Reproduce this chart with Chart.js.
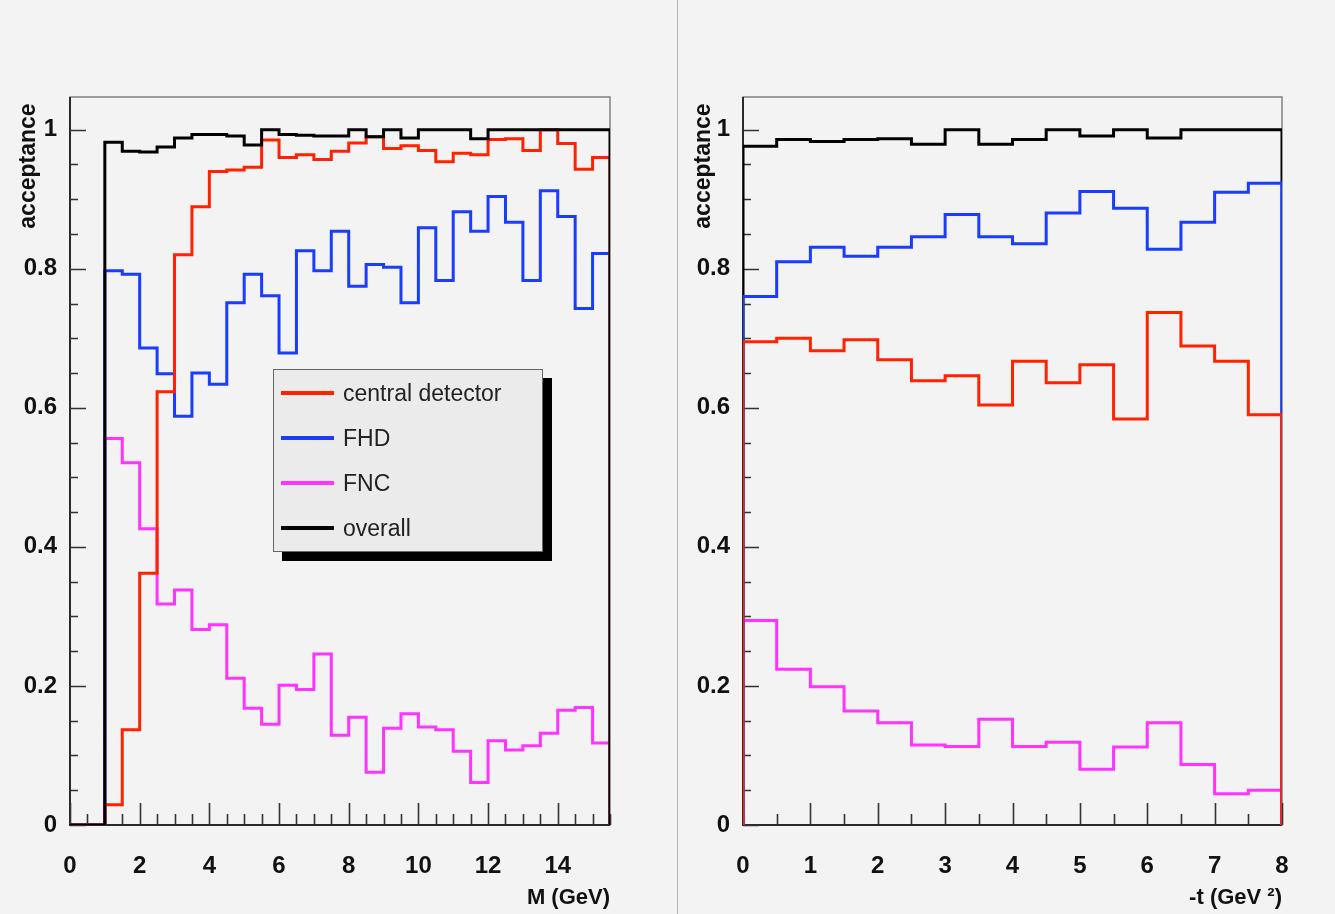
<!DOCTYPE html>
<html>
<head>
<meta charset="utf-8">
<script src="https://cdn.jsdelivr.net/npm/chart.js@4.4.1/dist/chart.umd.min.js"></script>
<style>
  body { margin: 0; background: #f3f3f3; width: 1335px; height: 914px; overflow: hidden; position: relative; font-family: "Liberation Sans", Arial, sans-serif; }
  canvas { position: absolute; top: 0; }
  #cL { left: 0; }
  #cR { left: 678px; }
  #divider { position: absolute; left: 677px; top: 0; width: 1px; height: 914px; background: #b4b4b4; }
  #legend { position: absolute; left: 273px; top: 369px; width: 270px; height: 183px; box-sizing: border-box;
            background: #ebebeb; border: 1px solid #666; box-shadow: 9px 9px 0 #000; }
  .row { position: absolute; left: 7px; height: 30px; }
  .row span.sw { position: absolute; left: 0; top: 13px; width: 53px; height: 4px; }
  .row span.tx { position: absolute; left: 62px; top: 0; font-size: 23px; line-height: 30px; color: #222; white-space: nowrap; }
</style>
</head>
<body>
<canvas id="cL" width="677" height="914"></canvas>
<div id="divider"></div>
<canvas id="cR" width="657" height="914"></canvas>
<div id="legend"></div>
<script>
// series names + colours (legend order)
const seriesNames = ["central detector", "FHD", "FNC", "overall"];
const seriesColors = ["#ff2200", "#1a3cff", "#ff33ff", "#000000"];

// left pad: acceptance vs M (GeV), 0.5 GeV bins from 0 to 15.5
const mRange = [0, 15.5];
const mBinWidth = 0.5;
const mTicks = [0, 2, 4, 6, 8, 10, 12, 14];
const mCentral = [0, 0, 0.029, 0.137, 0.362, 0.623, 0.820, 0.889, 0.940, 0.942, 0.946, 0.985, 0.960, 0.964, 0.957, 0.969,
                  0.981, 0.990, 0.973, 0.977, 0.970, 0.954, 0.966, 0.964, 0.986, 0.987, 0.970, 1.000, 0.980, 0.943, 0.960];
const mFHD = [0, 0, 0.797, 0.792, 0.686, 0.649, 0.588, 0.650, 0.634, 0.751, 0.792, 0.761, 0.679, 0.826, 0.797, 0.854,
              0.775, 0.806, 0.802, 0.751, 0.859, 0.783, 0.882, 0.854, 0.904, 0.867, 0.783, 0.912, 0.875, 0.743, 0.822];
const mFNC = [0, 0, 0.556, 0.521, 0.426, 0.318, 0.338, 0.281, 0.288, 0.211, 0.168, 0.145, 0.201, 0.195, 0.246, 0.129,
              0.155, 0.076, 0.139, 0.160, 0.141, 0.137, 0.106, 0.061, 0.121, 0.108, 0.114, 0.132, 0.165, 0.169, 0.118];
const mOverall = [0, 0, 0.982, 0.969, 0.968, 0.975, 0.988, 0.993, 0.993, 0.991, 0.978, 1.000, 0.993, 0.992, 0.991, 0.991,
                  1.000, 0.990, 1.000, 0.988, 1.000, 1.000, 1.000, 0.987, 1.000, 1.000, 1.000, 1.000, 1.000, 1.000, 1.000];

// right pad: acceptance vs -t (GeV^2), 0.5 bins from 0 to 8
const tRange = [0, 8];
const tBinWidth = 0.5;
const tTicks = [0, 1, 2, 3, 4, 5, 6, 7, 8];
const tCentral = [0.695, 0.700, 0.682, 0.698, 0.669, 0.639, 0.646, 0.604, 0.667, 0.636, 0.662, 0.584, 0.737, 0.689, 0.667, 0.590];
const tFHD = [0.760, 0.810, 0.831, 0.818, 0.831, 0.846, 0.878, 0.846, 0.836, 0.880, 0.911, 0.887, 0.828, 0.867, 0.910, 0.923];
const tFNC = [0.294, 0.224, 0.199, 0.164, 0.147, 0.115, 0.113, 0.152, 0.113, 0.119, 0.080, 0.112, 0.147, 0.087, 0.045, 0.050];
const tOverall = [0.976, 0.986, 0.983, 0.986, 0.987, 0.979, 1.000, 0.979, 0.986, 1.000, 0.991, 1.000, 0.988, 1.000, 1.000, 1.000];

const yRange = [0, 1.047];
const yTicks = [0, 0.2, 0.4, 0.6, 0.8, 1];

// histogram outline for stepped:'after' (vertical first, then across):
// start at 0 on the low edge, one point at each bin's upper edge, back to 0 at the end
function histPoints(lo, width, vals) {
    const pts = [{ x: lo, y: 0 }];
    vals.forEach((v, i) => pts.push({ x: lo + (i + 1) * width, y: v }));
    pts.push({ x: lo + vals.length * width, y: 0 });
    return pts;
}

// ROOT style frame with inside ticks
const rootFrame = {
    id: 'rootFrame',
    beforeDatasetsDraw(chart, args, opts) {
        const { ctx, chartArea: a, scales: { x, y } } = chart;
        ctx.save();
        ctx.strokeStyle = '#808080';
        ctx.lineWidth = 1.5;
        ctx.strokeRect(a.left, a.top, a.right - a.left, a.bottom - a.top);
        ctx.strokeStyle = '#2a2a2a';
        ctx.lineWidth = 2;
        ctx.beginPath();
        ctx.moveTo(a.left, a.top);
        ctx.lineTo(a.left, a.bottom);
        ctx.lineTo(a.right, a.bottom);
        ctx.stroke();

        ctx.lineWidth = 1.6;
        ctx.strokeStyle = '#333';
        ctx.beginPath();
        for (let k = 0; k * opts.yMinor <= y.max + 1e-9; k++) {
            const v = k * opts.yMinor;
            const major = opts.yMajor.some(m => Math.abs(m - v) < 1e-6);
            const py = Math.round(y.getPixelForValue(v)) + 0.5;
            ctx.moveTo(a.left, py);
            ctx.lineTo(a.left + (major ? 16 : 8), py);
        }
        for (let k = 0; x.min + k * opts.xMinor <= x.max + 1e-9; k++) {
            const v = x.min + k * opts.xMinor;
            const major = opts.xMajor.some(m => Math.abs(m - v) < 1e-6);
            const px = Math.round(x.getPixelForValue(v)) + 0.5;
            ctx.moveTo(px, a.bottom);
            ctx.lineTo(px, a.bottom - (major ? 22 : 11));
        }
        ctx.stroke();
        ctx.restore();
    }
};

function fmt(v) {
    return String(Math.round(v * 10) / 10);
}

// layers: lower number is painted on top
function makeChart(id, lo, hi, width, tickVals, xTitle, series, layers, yAxisWidth, padRight, yTitlePad) {
    return new Chart(document.getElementById(id), {
        type: 'line',
        data: {
            datasets: series.map((v, i) => ({
                label: seriesNames[i],
                data: histPoints(lo, width, v),
                borderColor: seriesColors[i],
                borderWidth: 3,
                stepped: 'after',
                pointRadius: 0,
                fill: false,
                order: layers[i]
            }))
        },
        options: {
            responsive: false,
            animation: false,
            devicePixelRatio: 1,
            events: [],
            layout: { padding: { left: 0, top: 97, right: padRight, bottom: 0 } },
            plugins: {
                legend: { display: false },
                tooltip: { enabled: false },
                rootFrame: { yMinor: 0.05, yMajor: yTicks, xMinor: width, xMajor: tickVals }
            },
            scales: {
                x: {
                    type: 'linear', min: lo, max: hi,
                    afterBuildTicks: s => { s.ticks = tickVals.map(v => ({ value: v })); },
                    afterFit: s => { s.height = 89; },
                    grid: { display: false },
                    border: { display: false },
                    ticks: {
                        padding: 19, color: '#111', maxRotation: 0,
                        font: { family: 'Liberation Sans', size: 24, weight: 'bold' },
                        callback: v => fmt(v)
                    },
                    title: {
                        display: true, text: xTitle, align: 'end', color: '#111',
                        font: { family: 'Liberation Sans', size: 22, weight: 'bold' },
                        padding: { top: 0, bottom: 3 }
                    }
                },
                y: {
                    type: 'linear', min: yRange[0], max: yRange[1],
                    afterBuildTicks: s => { s.ticks = yTicks.map(v => ({ value: v })); },
                    afterFit: s => { s.width = yAxisWidth; },
                    grid: { display: false },
                    border: { display: false },
                    ticks: {
                        padding: 5, color: '#111',
                        font: { family: 'Liberation Sans', size: 24, weight: 'bold' },
                        callback: v => fmt(v)
                    },
                    title: {
                        display: true, text: 'acceptance ', align: 'end', color: '#111',
                        font: { family: 'Liberation Sans', size: 23, weight: 'bold' },
                        padding: { top: yTitlePad, bottom: 0 }
                    }
                }
            }
        },
        plugins: [rootFrame]
    });
}

makeChart('cL', mRange[0], mRange[1], mBinWidth, mTicks, 'M (GeV)',
    [mCentral, mFHD, mFNC, mOverall], [1, 2, 3, 0], 70, 67, 15);
makeChart('cR', tRange[0], tRange[1], tBinWidth, tTicks, '-t (GeV ²)',
    [tCentral, tFHD, tFNC, tOverall], [0, 1, 2, 3], 65, 53, 12);

// legend box (left pad)
const legend = document.getElementById('legend');
seriesNames.forEach((name, i) => {
    const row = document.createElement('div');
    row.className = 'row';
    row.style.top = (8 + i * 45) + 'px';
    row.innerHTML = `<span class="sw" style="background:${seriesColors[i]}"></span><span class="tx">${name}</span>`;
    legend.appendChild(row);
});
</script>
</body>
</html>
